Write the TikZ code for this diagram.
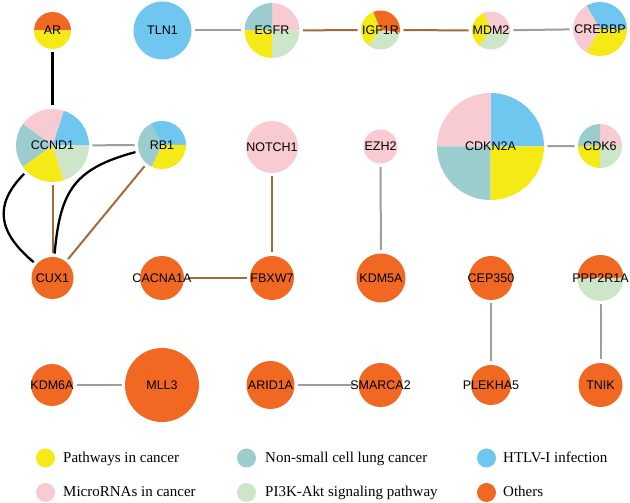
\documentclass[tikz,border=0pt]{standalone}
\usepackage{fontspec}
\setmainfont{Liberation Serif}
\newfontfamily\arialf{Liberation Sans}
\pgfdeclarelayer{bg}
\pgfsetlayers{bg,main}
\definecolor{cyel}{RGB}{245,234,22}
\definecolor{cteal}{RGB}{155,204,206}
\definecolor{cblue}{RGB}{111,199,240}
\definecolor{cpink}{RGB}{248,202,210}
\definecolor{cgreen}{RGB}{206,230,200}
\definecolor{corange}{RGB}{241,104,34}
\definecolor{cgray}{RGB}{158,158,158}
\definecolor{cbrown}{RGB}{163,106,58}
\tikzset{
  gnode/.style={circle,inner sep=0pt,outer sep=0pt,draw=none},
  lbl/.style={inner sep=0pt,font=\arialf\fontsize{12.5}{14}\selectfont,text=black},
  egray/.style={draw=cgray,line width=2pt},
  ebrown/.style={draw=cbrown,line width=2pt},
  eblack/.style={draw=black,line width=2.3pt},
  legdot/.style={circle,inner sep=0pt,minimum size=19pt,draw=none},
  legtext/.style={anchor=base west,inner sep=0pt,font=\fontsize{15}{17}\selectfont},
}
\newcommand{\gn}[5]{%
  \node[gnode,minimum size={2*#4pt+7pt}] (#1) at (#2,#3) {};
  \node[lbl] (#1-t) at (#1.center) {#5};}
\newcommand{\piechart}[3]{%
  \foreach \sa/\sb/\sc in {#3}{%
    \fill[\sc] (#1.center) -- ++(\sa:#2pt) arc[start angle=\sa,end angle=\sb,radius=#2pt] -- cycle;}}
\newcommand{\solid}[3]{\fill[#3] (#1.center) circle[radius=#2pt];}
\begin{document}
\begin{tikzpicture}[x=1pt,y=1pt]
\useasboundingbox (0,0) rectangle (630,503);
% nodes
\gn{ar}{52.5}{472.5}{18.5}{AR}
\gn{tln1}{162.5}{472.5}{29}{TLN1}
\gn{egfr}{272}{472.5}{27.5}{EGFR}
\gn{igf1r}{380.5}{473}{19.5}{IGF1R}
\gn{mdm2}{491}{472.5}{19}{MDM2}
\gn{crebbp}{600}{474}{27}{CREBBP}
\gn{ccnd1}{52.5}{357.5}{36.5}{CCND1}
\gn{rb1}{162}{358}{24}{RB1}
\gn{notch1}{272}{356}{26}{NOTCH1}
\gn{ezh2}{380.5}{356.5}{17}{EZH2}
\gn{cdkn2a}{490.5}{356.5}{53.5}{CDKN2A}
\gn{cdk6}{600}{357}{22}{CDK6}
\gn{cux1}{52.5}{225}{21}{CUX1}
\gn{cacna1a}{162}{225}{22}{CACNA1A}
\gn{fbxw7}{272}{225}{22}{FBXW7}
\gn{kdm5a}{381}{225}{24.5}{KDM5A}
\gn{cep350}{491}{225}{22}{CEP350}
\gn{ppp2r1a}{600.5}{225}{23}{PPP2R1A}
\gn{kdm6a}{52}{118}{21}{KDM6A}
\gn{mll3}{162}{118}{37}{MLL3}
\gn{arid1a}{270.5}{118}{24}{ARID1A}
\gn{smarca2}{380.5}{118}{22}{SMARCA2}
\gn{plekha5}{491}{118}{20}{PLEKHA5}
\gn{tnik}{600.5}{118}{22}{TNIK}
% legend
\node[legdot,fill=cyel] (l1) at (45.5,45) {};
\node[legdot,fill=cteal] (l2) at (246.5,45) {};
\node[legdot,fill=cblue] (l3) at (486.5,45) {};
\node[legdot,fill=cpink] (l4) at (45.5,10.5) {};
\node[legdot,fill=cgreen] (l5) at (246.5,10.5) {};
\node[legdot,fill=corange] (l6) at (486.5,10.5) {};
\node[legtext] (t1) at (63,40) {Pathways in cancer};
\node[legtext] (t2) at (265,40) {Non-small cell lung cancer};
\node[legtext] (t3) at (503,40) {HTLV-I infection};
\node[legtext] (t4) at (63,6) {MicroRNAs in cancer};
\node[legtext] (t5) at (265,6) {PI3K-Akt signaling pathway};
\node[legtext] (t6) at (503,6) {Others};
\begin{pgfonlayer}{bg}
\fill[white] (0,0) rectangle (630,503);
% pies
\piechart{ar}{18.5}{0/180/corange,180/360/cyel}
\solid{tln1}{29}{cblue}
\piechart{egfr}{27.5}{0/90/cpink,90/180/cteal,180/270/cyel,270/360/cgreen}
\piechart{igf1r}{19.5}{-8/112/corange,112/232/cyel,232/352/cgreen}
\piechart{mdm2}{19}{-8/112/cpink,112/232/cyel,232/352/cgreen}
\piechart{crebbp}{27}{0/120/cblue,120/240/cpink,240/360/cyel}
\piechart{ccnd1}{36.5}{0/72/cblue,72/144/cpink,144/216/cteal,216/288/cyel,288/360/cgreen}
\piechart{rb1}{24}{0/118/cblue,118/245/cteal,245/360/cyel}
\solid{notch1}{26}{cpink}
\solid{ezh2}{17}{cpink}
\piechart{cdkn2a}{53.5}{0/90/cblue,90/180/cpink,180/270/cteal,270/360/cyel}
\piechart{cdk6}{22}{0/90/cpink,90/180/cteal,180/270/cyel,270/360/cgreen}
\solid{cux1}{21}{corange}
\solid{cacna1a}{22}{corange}
\solid{fbxw7}{22}{corange}
\solid{kdm5a}{24.5}{corange}
\solid{cep350}{22}{corange}
\piechart{ppp2r1a}{23}{0/180/corange,180/360/cgreen}
\solid{kdm6a}{21}{corange}
\solid{mll3}{37}{corange}
\solid{arid1a}{24}{corange}
\solid{smarca2}{22}{corange}
\solid{plekha5}{20}{corange}
\solid{tnik}{22}{corange}
% edges
\draw[egray] (tln1) -- (egfr);
\draw[ebrown] (egfr) -- (igf1r);
\draw[ebrown] (igf1r) -- (mdm2);
\draw[egray] (mdm2) -- (crebbp);
\draw[eblack] (ar) -- (ccnd1);
\draw[egray] (ccnd1) -- (rb1);
\draw[ebrown] (ccnd1) -- (cux1);
\draw[ebrown] (rb1) -- (cux1);
\draw[eblack] (ccnd1) to[out=225,in=140,looseness=1.3] (cux1);
\draw[eblack] (rb1) to[out=195,in=85,looseness=1.25] (cux1);
\draw[ebrown] (notch1) -- (fbxw7);
\draw[ebrown] (cacna1a) -- (fbxw7);
\draw[egray] (ezh2) -- (kdm5a);
\draw[egray] (cdkn2a) -- (cdk6);
\draw[egray] (cep350) -- (plekha5);
\draw[egray] (ppp2r1a) -- (tnik);
\draw[egray] (kdm6a) -- (mll3);
\draw[egray] (arid1a) -- (smarca2);
\end{pgfonlayer}
\end{tikzpicture}
\end{document}
